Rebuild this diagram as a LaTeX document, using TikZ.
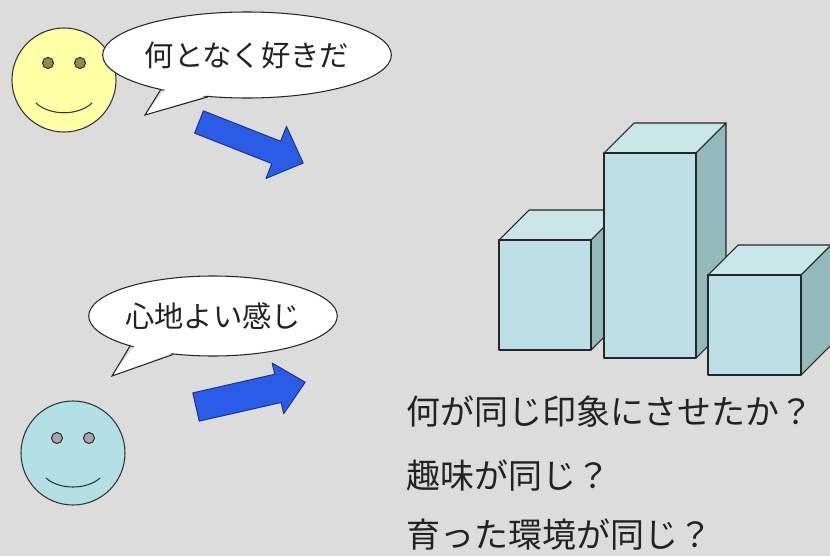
\documentclass[tikz,border=0pt]{standalone}
\usepackage{fontspec}
\newfontfamily\jpfont{Noto Sans CJK JP}
\usepackage{tikz}
\usetikzlibrary{shapes.geometric}
\usetikzlibrary{calc}
\usepackage{xcolor}
\definecolor{bggray}{HTML}{DCDCDC}
\definecolor{faceyellow}{HTML}{FFFFA6}
\definecolor{facecyan}{HTML}{B2E0E4}
\definecolor{arrowblue}{HTML}{2B5CE8}
\definecolor{boxfront}{HTML}{BCE0E5}
\definecolor{boxtop}{HTML}{C9E7E9}
\definecolor{boxside}{HTML}{94B9BA}
\definecolor{inkgray}{HTML}{222222}
% one bar: front face from (#1,#2), width #3, height #4
\newcommand{\barbox}[4]{%
  \filldraw[fill=boxtop,barline] (#1,#2) -- ++(30,-30) -- ++(#3,0) -- ++(-30,30) -- cycle;
  \filldraw[fill=boxside,barline] (#1+#3,#2) -- ++(30,-30) -- ++(0,#4) -- ++(-30,30) -- cycle;
  \filldraw[fill=boxfront,barline] (#1,#2) rectangle ++(#3,#4);
}

\begin{document}
\begin{tikzpicture}[x=0.03cm,y=-0.03cm]
\tikzset{face/.style={circle,draw=black!80,line width=0.9pt,minimum size=3.12cm,inner sep=0pt}}
\tikzset{eye/.style={circle,draw=black!80,line width=0.9pt,minimum size=0.33cm,inner sep=0pt}}
\tikzset{smile/.style={draw=black!80,line width=0.9pt,line cap=round}}
\tikzset{bubble/.style={ellipse,draw=black!85,fill=white,line width=0.9pt,inner sep=0pt,text=inkgray,font=\jpfont\fontsize{25}{25}\selectfont}}
\tikzset{bluearrow/.style={fill=arrowblue,draw=arrowblue!55!black,line width=0.8pt,line join=round}}
\tikzset{barline/.style={draw=black!85,line width=0.9pt,line join=round}}
\tikzset{question/.style={anchor=west,inner sep=0pt,text=inkgray,font=\jpfont\fontsize{29}{29}\selectfont}}
\useasboundingbox (0,0) rectangle (830,556);
\fill[bggray] (0,0) rectangle (830,556);

% faces
\node[face,fill=faceyellow] (f1) at (64,80) {};
\node[eye,fill=olive!45!gray] (f1l) at ($(f1)+(-16,-17)$) {};
\node[eye,fill=olive!45!gray] (f1r) at ($(f1)+(16,-17)$) {};
\draw[smile] ($(f1)+(-28,23)$) .. controls +(14,13) and +(-14,13) .. ($(f1)+(28,23)$);

\node[face,fill=facecyan] (f2) at (73,453) {};
\node[eye,fill=gray!70] (f2l) at ($(f2)+(-16,-15)$) {};
\node[eye,fill=gray!70] (f2r) at ($(f2)+(16,-15)$) {};
\draw[smile] ($(f2)+(-27,25)$) .. controls +(13,12) and +(-13,12) .. ($(f2)+(27,25)$);

% speech bubbles
\node[bubble,minimum width=6.9cm,minimum height=2.58cm] (say1) at (247,55) {何となく好きだ};
\fill[white] ($(say1.center)!0.93!(say1.202)$) -- (145,115) -- ($(say1.center)!0.93!(say1.227)$) -- cycle;
\draw[black!85,line width=0.9pt,line join=miter] (say1.202) -- (145,115) -- (say1.227);

\node[bubble,minimum width=6.84cm,minimum height=2.4cm] (say2) at (213,316) {心地よい感じ};
\fill[white] ($(say2.center)!0.93!(say2.200)$) -- (112,376) -- ($(say2.center)!0.93!(say2.224)$) -- cycle;
\draw[black!85,line width=0.9pt,line join=miter] (say2.200) -- (112,376) -- (say2.224);

% block arrows
\draw[bluearrow,shift={(199,122)},rotate=-21.5] (0,-12) -- (83,-12) -- (83,-28) -- (112,0) -- (83,28) -- (83,12) -- (0,12) -- cycle;
\draw[bluearrow,shift={(196,407)},rotate=12.8] (0,-14.5) -- (84,-14.5) -- (84,-26) -- (112,0) -- (84,26) -- (84,14.5) -- (0,14.5) -- cycle;

% bars
\barbox{499}{240}{92}{110}
\barbox{604}{153}{92}{205}
\barbox{708}{275}{93}{100}

% questions
\node[question] (q1) at (406,412) {何が同じ印象にさせたか？};
\node[question] (q2) at (406,476) {趣味が同じ？};
\node[question] (q3) at (406,535) {育った環境が同じ？};
\end{tikzpicture}
\end{document}
